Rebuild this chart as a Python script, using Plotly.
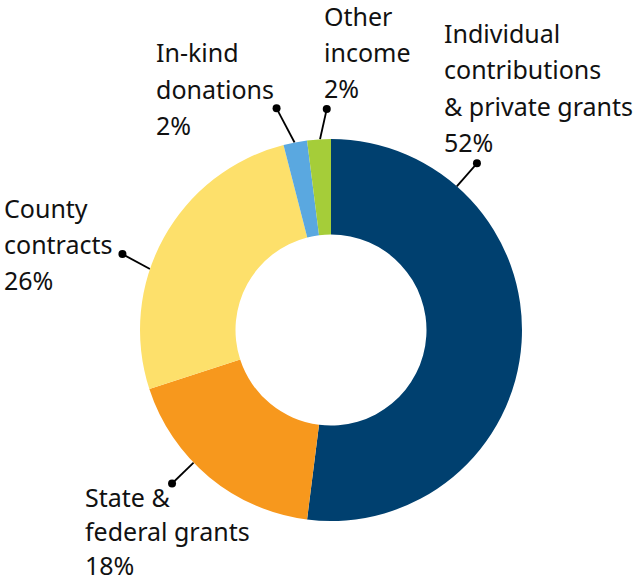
import math
import plotly.graph_objects as go

# Data
categories = ["Individual contributions & private grants", "State & federal grants",
              "County contracts", "In-kind donations", "Other income"]
values = [52, 18, 26, 2, 2]
label_lines = [
    ["Individual", "contributions", "& private grants", "52%"],
    ["State &", "federal grants", "18%"],
    ["County", "contracts", "26%"],
    ["In-kind", "donations", "2%"],
    ["Other", "income", "2%"],
]
colors = ["#00406f", "#f7981d", "#fde06b", "#5aa8e0", "#a5cd39"]

# Layout (pixels in 638x583 canvas)
W, H = 638, 583
cx, cy, R = 331, 330, 191
EXT = 1.3  # overlay axis extent in units of R
# leader lines: (angle at slice edge, radius), (angle at dot, radius) - angles clockwise from top, radii in units of R
leaders = [
    ((41.2, 1.0), (41.2, 1.16)),
    ((226.0, 1.0), (226.0, 1.157)),
    ((288.6, 1.0), (290.0, 1.162)),
    ((349.0, 1.0), (346.2, 1.195)),
    ((356.7, 1.0), (358.9, 1.157)),
]
# text blocks: left x, first line center y, line spacing
text_pos = [
    (443, 33, 36.3),
    (84, 497, 34),
    (3, 208, 36),
    (155, 52, 36.5),
    (323, 16, 36),
]

fig = go.Figure()
dom_x = [(cx - R) / W, (cx + R) / W]
dom_y = [(H - cy - R) / H, (H - cy + R) / H]
ax_x = [(cx - EXT * R) / W, (cx + EXT * R) / W]
ax_y = [(H - cy - EXT * R) / H, (H - cy + EXT * R) / H]

fig.add_trace(go.Pie(
    labels=categories, values=values, sort=False, direction="clockwise",
    rotation=0, hole=0.5, textinfo="none", hoverinfo="label+percent",
    marker=dict(colors=colors, line=dict(width=0)),
    domain=dict(x=dom_x, y=dom_y), showlegend=False,
))

def pt(a, r):
    t = math.radians(a)
    return r * math.sin(t), r * math.cos(t)

for (a0, r0), (a1, r1) in leaders:
    x0, y0 = pt(a0, r0)
    x1, y1 = pt(a1, r1)
    fig.add_trace(go.Scatter(x=[x0, x1], y=[y0, y1], mode="lines",
                             line=dict(color="black", width=1.8), cliponaxis=False,
                             hoverinfo="skip", showlegend=False))
    fig.add_trace(go.Scatter(x=[x1], y=[y1], mode="markers", cliponaxis=False,
                             marker=dict(color="black", size=8),
                             hoverinfo="skip", showlegend=False))

annotations = []
for lines, (lx, ly, sp) in zip(label_lines, text_pos):
    for i, s in enumerate(lines):
        annotations.append(dict(
            text=s, xref="paper", yref="paper", x=lx / W, y=1 - (ly + i * sp) / H,
            xanchor="left", yanchor="middle", showarrow=False, borderpad=0,
            font=dict(family="Noto Sans", size=25, color="#111111"),
        ))

fig.update_layout(
    width=W, height=H, margin=dict(l=0, r=0, t=0, b=0),
    paper_bgcolor="white", plot_bgcolor="rgba(0,0,0,0)",
    xaxis=dict(domain=ax_x, range=[-EXT, EXT], visible=False, fixedrange=True),
    yaxis=dict(domain=ax_y, range=[-EXT, EXT], visible=False, fixedrange=True),
    annotations=annotations,
)

fig.write_html("out.html", config={"displayModeBar": False},
               post_script="document.body.style.margin='0';")
